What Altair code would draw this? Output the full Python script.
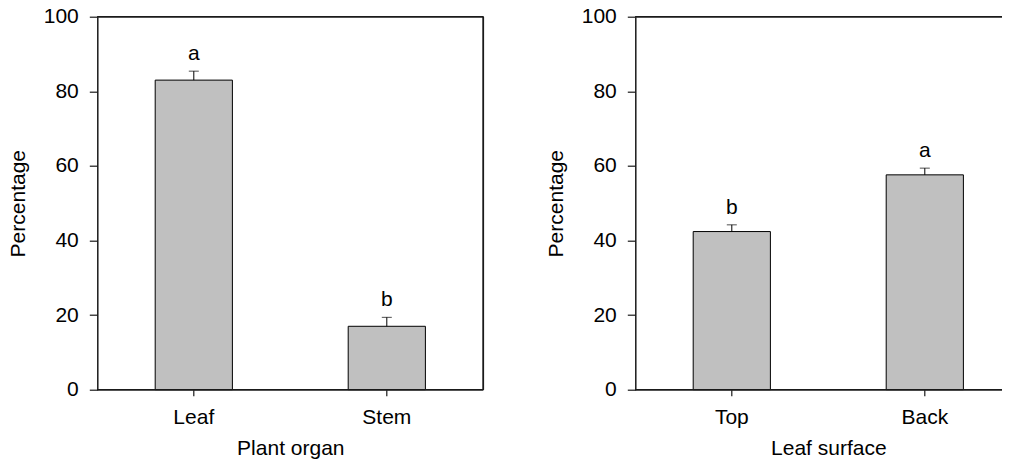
import altair as alt
import pandas as pd

# ---- data ----
organs = ["Leaf", "Stem"]
organ_pct = [83.0, 17.0]
organ_err = [2.4, 2.4]
organ_letters = ["a", "b"]

surfaces = ["Top", "Back"]
surface_pct = [42.4, 57.6]
surface_err = [1.8, 1.8]
surface_letters = ["b", "a"]

y_ticks = [0, 20, 40, 60, 80, 100]

FONT = "Liberation Sans"
FS = 21
H = 373
W = 386


def make_df(cats, vals, errs, letters):
    return pd.DataFrame({
        "cat": cats,
        "val": vals,
        "hi": [v + e for v, e in zip(vals, errs)],
        "letter": letters,
    })


def panel(df, cats, xtitle, right_border):
    xscale = alt.Scale(domain=cats, paddingInner=0.6, paddingOuter=0.3)
    x = alt.X("cat:N", scale=xscale, sort=cats,
              axis=alt.Axis(title=xtitle, labelAngle=0, tickSize=6, labelPadding=11,
                            titlePadding=10, domain=False,
                            tickColor="#1a1a1a", tickWidth=1.2))
    y = alt.Y("val:Q", scale=alt.Scale(domain=[0, 100], nice=False),
              axis=alt.Axis(title="Percentage", values=y_ticks, grid=False, tickSize=8,
                            labelPadding=11, titlePadding=15, domainColor="#1a1a1a",
                            domainWidth=1.5, tickColor="#1a1a1a", tickWidth=1.2))
    base = alt.Chart(df)
    bars = base.mark_bar(fill="#c0c0c0", stroke="#000000", strokeWidth=1).encode(x=x, y=y)
    err = base.mark_rule(color="#000000", strokeWidth=1).encode(
        x=alt.X("cat:N", scale=xscale, sort=cats), y="val:Q", y2="hi:Q")
    cap = base.mark_tick(color="#000000", size=10, thickness=1, orient="horizontal").encode(
        x=alt.X("cat:N", scale=xscale, sort=cats), y="hi:Q")
    txt = base.mark_text(font=FONT, fontSize=FS, baseline="alphabetic", dy=-11, color="#000000").encode(
        x=alt.X("cat:N", scale=xscale, sort=cats), y="hi:Q", text="letter:N")
    bottom = base.mark_rule(color="#1a1a1a", strokeWidth=1.5).encode(
        x=alt.value(0), x2=alt.value(W), y=alt.value(H))
    top = base.mark_rule(color="#1a1a1a", strokeWidth=1.5).encode(
        x=alt.value(0), x2=alt.value(W), y=alt.value(0))
    layers = [bars, err, cap, txt, bottom, top]
    if right_border:
        layers.append(base.mark_rule(color="#1a1a1a", strokeWidth=1.5).encode(
            x=alt.value(W), y=alt.value(0), y2=alt.value(H)))
    return alt.layer(*layers).properties(width=W, height=H)


left = panel(make_df(organs, organ_pct, organ_err, organ_letters), organs, "Plant organ", True)
right = panel(make_df(surfaces, surface_pct, surface_err, surface_letters), surfaces, "Leaf surface", False)

chart = alt.hconcat(left, right, spacing=60).properties(
    autosize=alt.AutoSizeParams(type="none"),
    padding={"left": 89.3, "top": 8.7, "right": 904.7, "bottom": 438.3}
).configure_view(stroke=None).configure_axis(
    labelFont=FONT, titleFont=FONT, labelFontSize=FS, titleFontSize=FS,
    labelColor="#000000", titleColor="#000000", titleFontWeight="normal"
)

chart.save("out.html", embed_options={"renderer": "svg", "actions": False})
